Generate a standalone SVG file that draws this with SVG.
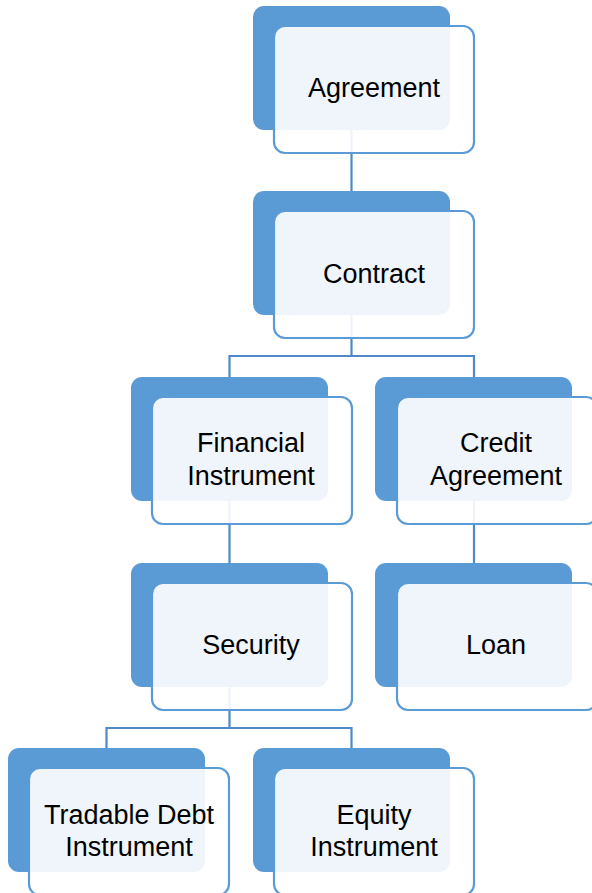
<svg xmlns="http://www.w3.org/2000/svg" width="592" height="893" viewBox="0 0 592 893">
<style>
.back{fill:#5B9BD5}
.front{fill:#FFFFFF;fill-opacity:0.9;stroke:#5B9BD5;stroke-width:2.2}
.conn{fill:none;stroke:#4F89C8;stroke-width:2.2}
text{font-family:"Liberation Sans",Arial,sans-serif;font-size:27px;fill:#000;text-anchor:middle}
</style>
<rect width="592" height="893" fill="#FFFFFF"/>
<g id="connectors">
<path class="conn" d="M351.5,129 V191"/>
<path class="conn" d="M351.5,315 V356 M229.5,377 V356 H474 V377"/>
<path class="conn" d="M229.5,501 V563"/>
<path class="conn" d="M474,501 V563"/>
<path class="conn" d="M229.5,687 V728 M106.5,748 V728 H351.5 V748"/>
</g>
<g id="agreement">
<rect class="back" x="253" y="6" width="197" height="124" rx="11"/>
<rect class="front" x="274" y="26" width="200" height="127" rx="11"/>
<text x="374" y="97">Agreement</text>
</g>
<g id="contract">
<rect class="back" x="253" y="191" width="197" height="124" rx="11"/>
<rect class="front" x="274" y="211" width="200" height="127" rx="11"/>
<text x="374" y="283">Contract</text>
</g>
<g id="financial-instrument">
<rect class="back" x="131" y="377" width="197" height="124" rx="11"/>
<rect class="front" x="152" y="397" width="200" height="127" rx="11"/>
<text x="251" y="452">Financial</text>
<text x="251" y="485">Instrument</text>
</g>
<g id="credit-agreement">
<rect class="back" x="375" y="377" width="197" height="124" rx="11"/>
<rect class="front" x="397" y="397" width="200" height="127" rx="11"/>
<text x="496" y="452">Credit</text>
<text x="496" y="485">Agreement</text>
</g>
<g id="security">
<rect class="back" x="131" y="563" width="197" height="124" rx="11"/>
<rect class="front" x="152" y="583" width="200" height="127" rx="11"/>
<text x="251" y="654">Security</text>
</g>
<g id="loan">
<rect class="back" x="375" y="563" width="197" height="124" rx="11"/>
<rect class="front" x="397" y="583" width="200" height="127" rx="11"/>
<text x="496" y="654">Loan</text>
</g>
<g id="tradable-debt-instrument">
<rect class="back" x="8" y="748" width="197" height="124" rx="11"/>
<rect class="front" x="29" y="768" width="200" height="127" rx="11"/>
<text x="129" y="824">Tradable Debt</text>
<text x="129" y="856">Instrument</text>
</g>
<g id="equity-instrument">
<rect class="back" x="253" y="748" width="197" height="124" rx="11"/>
<rect class="front" x="274" y="768" width="200" height="127" rx="11"/>
<text x="374" y="824">Equity</text>
<text x="374" y="856">Instrument</text>
</g>
</svg>
